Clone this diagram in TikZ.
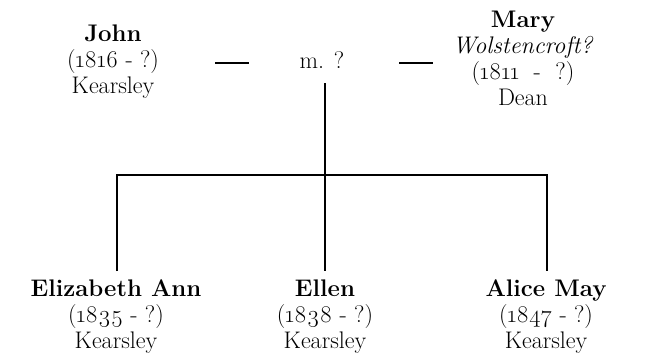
\documentclass[tikz,border=0pt]{standalone}
\usepackage{fontspec}
\setmainfont{Latin Modern Roman}[Numbers=OldStyle]
\begin{document}
\begin{tikzpicture}[x=1pt,y=-1pt,
  person/.style={align=center,inner sep=0pt,font=\fontsize{24}{26}\selectfont},
  link/.style={line width=2.5pt}]
\useasboundingbox (0,0) rectangle (647,360);
% parents
\node[person] (john) at (113,62) {\textbf{John}\\(1816 - ?)\\Kearsley};
\node[person,anchor=base] (marr) at (322,68) {m. ?};
\node[person] (mary) at (523,58) {\textbf{Mary}\\\textit{Wolstencroft?}\\(1811\ \ -\ \ ?)\\Dean};
% children
\node[person] (eliz) at (116,317) {\textbf{Elizabeth Ann}\\(1835 - ?)\\Kearsley};
\node[person] (ellen) at (325,317) {\textbf{Ellen}\\(1838 - ?)\\Kearsley};
\node[person] (alice) at (546,317) {\textbf{Alice May}\\(1847 - ?)\\Kearsley};
% connector points
\coordinate (dl1) at (215,63);
\coordinate (dl2) at (249,63);
\coordinate (dr1) at (399,63);
\coordinate (dr2) at (433,63);
\coordinate (mv) at (325,83);
\coordinate (hl) at (117,175);
\coordinate (hr) at (547,175);
\coordinate (e1) at (117,271);
\coordinate (e2) at (325,271);
\coordinate (e3) at (547,271);
% connectors
\draw[link] (dl1) -- (dl2);
\draw[link] (dr1) -- (dr2);
\draw[link] (mv) -- (e2);
\draw[link] (e1) -- (hl) -- (hr) -- (e3);
\end{tikzpicture}
\end{document}
